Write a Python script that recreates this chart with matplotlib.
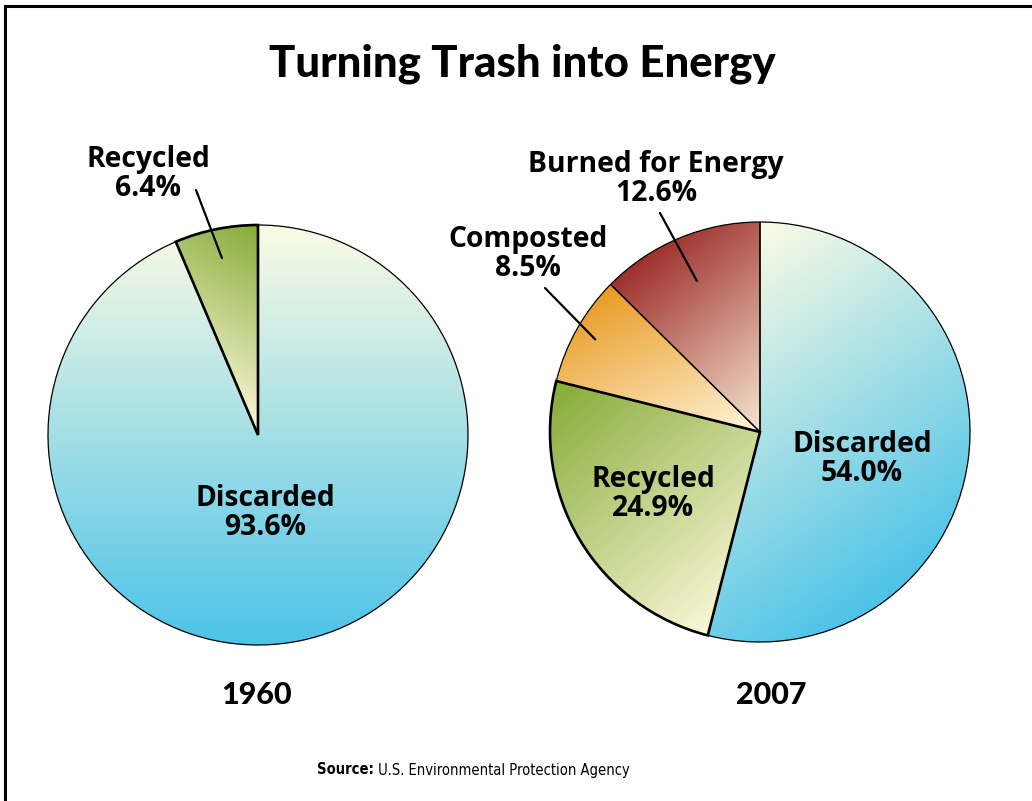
import numpy as np
import matplotlib.pyplot as plt
from matplotlib.colors import LinearSegmentedColormap
from matplotlib.lines import Line2D

# figure is laid out in pixels of the reference (1032 x 801)
W, H = 1032, 801
R = 210  # pie radius in px

labels_1960 = ["Discarded", "Recycled"]
values_1960 = [93.6, 6.4]

labels_2007 = ["Discarded", "Recycled", "Composted", "Burned for Energy"]
values_2007 = [54.0, 24.9, 8.5, 12.6]

# start colour -> end colour of each slice gradient
grad_colors = {
    "Discarded": ("#fcfbe4", "#4cc3e8"),
    "Recycled": ("#86ab37", "#faf7d8"),
    "Composted": ("#e99a22", "#fff6dc"),
    "Burned for Energy": ("#9e2f2b", "#f7e6d2"),
}

LABEL_FONT = "Open Sans"
TITLE_FONT = "Lato"


def px_axes(fig, cx, cy, half=250):
    # square axes centred on pixel (cx, cy), data units = pie radii
    ax = fig.add_axes([(cx - half) / W, (H - cy - half) / H, 2 * half / W, 2 * half / H])
    return ax


def to_pie(cx, cy, px, py):
    return (px - cx) / R, (cy - py) / R


def fill_gradient(ax, wedge, c0, c1, angle):
    verts = wedge.get_path().vertices
    d = np.array([np.cos(np.radians(angle)), np.sin(np.radians(angle))])
    proj = verts @ d
    x0, y0 = verts.min(axis=0)
    x1, y1 = verts.max(axis=0)
    X, Y = np.meshgrid(np.linspace(x0, x1, 400), np.linspace(y0, y1, 400))
    T = (X * d[0] + Y * d[1] - proj.min()) / (proj.max() - proj.min())
    cmap = LinearSegmentedColormap.from_list("g", [c0, c1])
    im = ax.imshow(T, extent=(x0, x1, y0, y1), origin="lower", cmap=cmap,
                   vmin=0, vmax=1, interpolation="bilinear", zorder=1)
    im.set_clip_path(wedge)


def draw_pie(ax, labels, values, directions):
    wedges, _ = ax.pie(values, startangle=90, counterclock=False, radius=1,
                       wedgeprops=dict(edgecolor="black", linewidth=0.9))
    for w, lab, ang in zip(wedges, labels, directions):
        c0, c1 = grad_colors[lab]
        fill_gradient(ax, w, c0, c1, ang)
        w.set_facecolor("none")
        w.set_zorder(2)
        if lab == "Recycled":
            w.set_linewidth(1.9)
            w.set_zorder(3)
    ax.set_xlim(-250 / R, 250 / R)
    ax.set_ylim(-250 / R, 250 / R)
    ax.set_aspect("equal")
    ax.axis("off")
    return wedges


def inside_point(w, frac):
    mid = np.radians((w.theta1 + w.theta2) / 2)
    return frac * np.cos(mid), frac * np.sin(mid)


fig = plt.figure(figsize=(W / 100, H / 100), dpi=100)

# frame (left and top edges only, the rest is cropped in the original)
fig.add_artist(Line2D([5 / W, 5 / W], [0, 1 - 6 / H], color="black", lw=2.2,
                      transform=fig.transFigure))
fig.add_artist(Line2D([5 / W, 1], [1 - 6 / H, 1 - 6 / H], color="black", lw=2.2,
                      transform=fig.transFigure))

fig.text(522 / W, 1 - 64 / H, "Turning Trash into Energy", ha="center", va="center",
         fontsize=31.5, fontweight="black", family=TITLE_FONT)

lab_kw = dict(ha="center", va="center", fontsize=20.3, fontweight="bold",
              family=LABEL_FONT, linespacing=1.0, zorder=5)
line_kw = dict(arrowstyle="-", lw=1.6, color="black", shrinkA=0, shrinkB=0)

# ---- 1960 ----
cx1, cy1 = 258, 435
ax1 = px_axes(fig, cx1, cy1)
w1 = draw_pie(ax1, labels_1960, values_1960, [-90, -120])
ax1.text(*to_pie(cx1, cy1, 148, 174), f"Recycled\n{values_1960[1]:.1f}%", **lab_kw)
ax1.annotate("", xy=inside_point(w1[1], 0.86), xytext=to_pie(cx1, cy1, 196, 190),
             arrowprops=line_kw)
ax1.text(*to_pie(cx1, cy1, 265, 513), f"Discarded\n{values_1960[0]:.1f}%", **lab_kw)
ax1.text(*to_pie(cx1, cy1, 256, 695), "1960", ha="center", va="center",
         fontsize=22, fontweight="black", family=TITLE_FONT)

# ---- 2007 ----
cx2, cy2 = 760, 432
ax2 = px_axes(fig, cx2, cy2)
w2 = draw_pie(ax2, labels_2007, values_2007, [-55, -50, -65, -50])
ax2.text(*to_pie(cx2, cy2, 862, 459), f"Discarded\n{values_2007[0]:.1f}%", **lab_kw)
ax2.text(*to_pie(cx2, cy2, 653, 494), f"Recycled\n{values_2007[1]:.1f}%", **lab_kw)
ax2.text(*to_pie(cx2, cy2, 528, 254), f"Composted\n{values_2007[2]:.1f}%", **lab_kw)
ax2.text(*to_pie(cx2, cy2, 656, 179), f"Burned for Energy\n{values_2007[3]:.1f}%", **lab_kw)
ax2.annotate("", xy=inside_point(w2[2], 0.9), xytext=to_pie(cx2, cy2, 545, 288),
             arrowprops=line_kw)
ax2.annotate("", xy=inside_point(w2[3], 0.78), xytext=to_pie(cx2, cy2, 660, 213),
             arrowprops=line_kw)
ax2.text(*to_pie(cx2, cy2, 771, 695), "2007", ha="center", va="center",
         fontsize=22, fontweight="black", family=TITLE_FONT)

# source line: bold lead-in + regular text
src = fig.text(317 / W, 1 - 770 / H, "Source:", ha="left", va="center",
               fontsize=10.5, fontweight="bold", family="DejaVu Sans", stretch="condensed")
ax1.annotate(" U.S. Environmental Protection Agency", xy=(1, 0.5), xycoords=src,
             ha="left", va="center", fontsize=10.5, family="DejaVu Sans",
             stretch="condensed", annotation_clip=False)
plt.savefig("out.png", dpi=100)
